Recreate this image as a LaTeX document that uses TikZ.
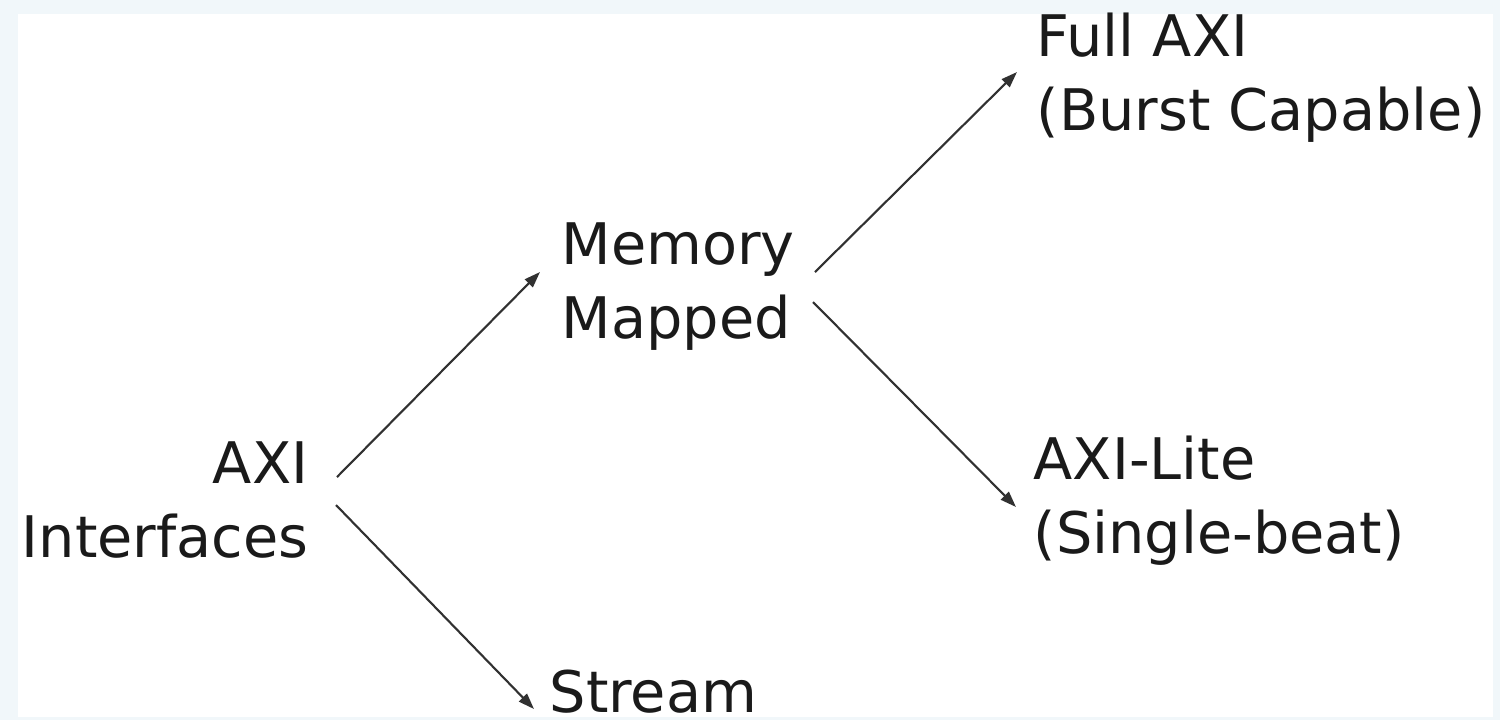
\documentclass[tikz,border=0pt]{standalone}
\usepackage{fontspec}
\setmainfont{DejaVu Sans}
\usetikzlibrary{arrows.meta}
\definecolor{wm}{HTML}{F1F7FA}
\definecolor{ink}{HTML}{1A1A1A}
\begin{document}
\begin{tikzpicture}[x=0.01cm,y=-0.01cm,
  lbl/.style={inner sep=0pt, text=ink, font=\fontsize{16.3pt}{20.8pt}\selectfont},
  conn/.style={line width=0.6pt, draw=ink!90, -{Triangle[length=1.6mm,width=1.1mm]}}]
\useasboundingbox (0,0) rectangle (1500,720);
\fill[wm] (0,0) rectangle (1500,720);
\fill[white] (18,14) rectangle (1493,717);
\node[lbl, align=right, anchor=base east] (axi) at (309,557) {AXI\\Interfaces};
\node[lbl, align=left, anchor=base west] (mem) at (561,338) {Memory\\Mapped};
\node[lbl, align=left, anchor=base west] (full) at (1036,130) {Full AXI\\(Burst Capable)};
\node[lbl, align=left, anchor=base west] (lite) at (1033,553) {AXI-Lite\\(Single-beat)};
\node[lbl, anchor=base west] (stream) at (549,712) {Stream};
\draw[conn] ([shift={(28,-80)}]axi.base east) -- ([shift={(-21,-66)}]mem.base west);
\draw[conn] ([shift={(27,-52)}]axi.base east) -- ([shift={(-15,-3)}]stream.base west);
\draw[conn] ([shift={(254,-66)}]mem.base west) -- ([shift={(-19,-58)}]full.base west);
\draw[conn] ([shift={(252,-36)}]mem.base west) -- ([shift={(-17,-46)}]lite.base west);
\end{tikzpicture}
\end{document}
